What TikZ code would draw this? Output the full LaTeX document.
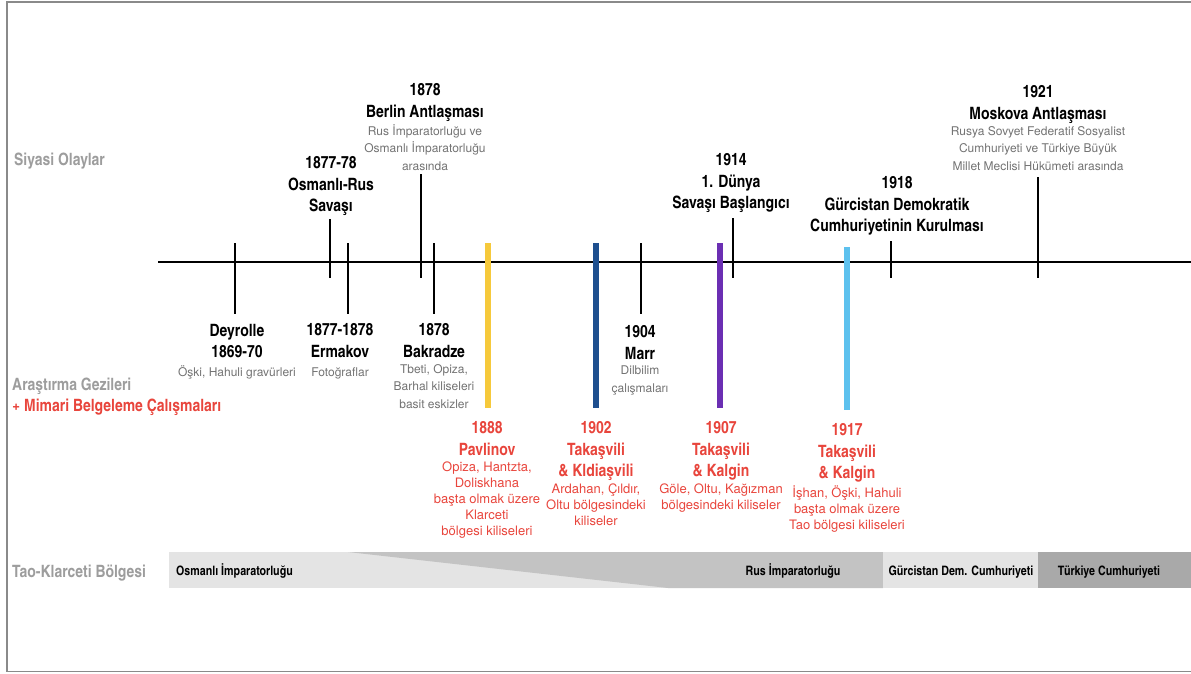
\documentclass[tikz,border=0pt]{standalone}
\usepackage{fontspec}
\setmainfont{TeX Gyre Heros}
\newfontfamily\condfont{texgyreheroscn}[Extension=.otf, UprightFont=*-regular, BoldFont=*-bold]
\usetikzlibrary{positioning}

\definecolor{framegray}{HTML}{8A8A8A}
\definecolor{sidegray}{HTML}{9D9D9D}
\definecolor{descgray}{HTML}{727272}
\definecolor{redtxt}{HTML}{E8453C}
\definecolor{tyellow}{HTML}{F6C93B}
\definecolor{tnavy}{HTML}{1E4F8F}
\definecolor{tpurple}{HTML}{6B2FB3}
\definecolor{tsky}{HTML}{5DC1EE}
\definecolor{barlight}{HTML}{E4E4E4}
\definecolor{barmid}{HTML}{C3C3C3}
\definecolor{bardark}{HTML}{A9A9A9}

\tikzset{
  ttl/.style={font=\condfont\bfseries\fontsize{17}{21.5}\selectfont, align=center, inner sep=0pt, anchor=north, execute at begin node=\strut, execute at end node=\strut},
  rttl/.style={ttl, text=redtxt},
  dsc/.style={font=\fontsize{12}{17.5}\selectfont, text=descgray, align=center, inner sep=0pt, execute at begin node=\strut},
  rdsc/.style={font=\fontsize{13}{16}\selectfont, text=redtxt, align=center, inner sep=0pt, execute at begin node=\strut},
  side/.style={font=\condfont\bfseries\fontsize{17}{20}\selectfont, text=sidegray, anchor=base west, inner sep=0pt},
  era/.style={font=\condfont\bfseries\fontsize{13}{15}\selectfont, anchor=base, inner sep=0pt},
  tick/.style={line width=1.6pt},
  trip/.style={line width=6.5pt},
}

\begin{document}
\begin{tikzpicture}[x=1pt, y=-1pt]
  \useasboundingbox (0,0) rectangle (1191,673);
  \draw [framegray, line width=1.5pt] (1191,2) -- (7,2) -- (7,671.5) -- (1191,671.5);

  % left column
  \node [side] (siyasi) at (14,165.5) {Siyasi Olaylar};
  \node [side] (arastirma) at (12,390.5) {Araştırma Gezileri};
  \node [side, text=redtxt] (mimari) at (12,411.5) {+ Mimari Belgeleme Çalışmaları};
  \node [side] (tao) at (12,577.5) {Tao-Klarceti Bölgesi};

  % axis and ticks
  \draw [tick] (158,262) -- (1191,262);
  \foreach \x/\ya in {330/219, 421/174, 733/218, 891/241, 1038/177}
    \draw [tick] (\x,\ya) -- (\x,278);
  \foreach \x in {235,348,434,641}
    \draw [tick] (\x,243) -- (\x,314);
  \draw [trip, tyellow] (488,243) -- (488,408);
  \draw [trip, tnavy] (596,243) -- (596,408);
  \draw [trip, tpurple] (720,243) -- (720,408);
  \draw [trip, tsky] (847,247) -- (847,410);

  % political events
  \node [ttl] (savas) at (331,156.6) {1877-78\\Osmanlı-Rus\\Savaşı};
  \node [ttl] (berlin) at (425,83.6) {1878\\Berlin Antlaşması};
  \node [dsc, below=0pt of berlin] (berlind) {Rus İmparatorluğu ve\\Osmanlı İmparatorluğu\\arasında};
  \node [ttl] (dunya) at (731,153.6) {1914\\1. Dünya\\Savaşı Başlangıcı};
  \node [ttl] (gurcistan) at (897,176.6) {1918\\Gürcistan Demokratik\\Cumhuriyetinin Kurulması};
  \node [ttl] (moskova) at (1038,85.6) {1921\\Moskova Antlaşması};
  \node [dsc, below=0pt of moskova] (moskovad) {Rusya Sovyet Federatif Sosyalist\\Cumhuriyeti ve Türkiye Büyük\\Millet Meclisi Hükümeti arasında};

  % research trips
  \node [ttl] (deyrolle) at (237,323.6) {Deyrolle\\1869-70};
  \node [dsc, below=0pt of deyrolle] (deyrolled) {Öşki, Hahuli gravürleri};
  \node [ttl] (ermakov) at (340,323.6) {1877-1878\\Ermakov};
  \node [dsc, below=0pt of ermakov] (ermakovd) {Fotoğraflar};
  \node [ttl] (bakradze) at (434,323.6) {1878\\Bakradze};
  \node [dsc, below=0pt of bakradze] (bakradzed) {Tbeti, Opiza,\\Barhal kiliseleri\\basit eskizler};
  \node [ttl] (marr) at (640,325.6) {1904\\Marr};
  \node [dsc, below=0pt of marr] (marrd) {Dilbilim\\çalışmaları};

  % documentation work
  \node [rttl] (pavlinov) at (487,421.6) {1888\\Pavlinov};
  \node [rdsc, below=0pt of pavlinov] (pavlinovd) {Opiza, Hantzta,\\Doliskhana\\başta olmak üzere\\Klarceti\\bölgesi kiliseleri};
  \node [rttl] (kldiasvili) at (596,421.6) {1902\\Takaşvili\\\& Kldiaşvili};
  \node [rdsc, below=0pt of kldiasvili] (kldiasvilid) {Ardahan, Çıldır,\\Oltu bölgesindeki\\kiliseler};
  \node [rttl] (kalgina) at (721,421.6) {1907\\Takaşvili\\\& Kalgin};
  \node [rdsc, below=0pt of kalgina] (kalginad) {Göle, Oltu, Kağızman\\bölgesindeki kiliseler};
  \node [rttl] (kalginb) at (847,423.6) {1917\\Takaşvili\\\& Kalgin};
  \node [rdsc, below=0pt of kalginb] (kalginbd) {İşhan, Öşki, Hahuli\\başta olmak üzere\\Tao bölgesi kiliseleri};

  % region bar
  \fill [barlight] (169,552) rectangle (883,588);
  \fill [barmid] (348,552) -- (883,552) -- (883,588) -- (668,588) -- cycle;
  \fill [barlight] (883,552) rectangle (1038,588);
  \fill [bardark] (1038,552) rectangle (1191,588);
  \node [era, anchor=base west] (osmanli) at (176,575) {Osmanlı İmparatorluğu};
  \node [era] (rus) at (793,575) {Rus İmparatorluğu};
  \node [era] (gurcdem) at (961,575) {Gürcistan Dem. Cumhuriyeti};
  \node [era] (turkiye) at (1109,575) {Türkiye Cumhuriyeti};
\end{tikzpicture}
\end{document}
